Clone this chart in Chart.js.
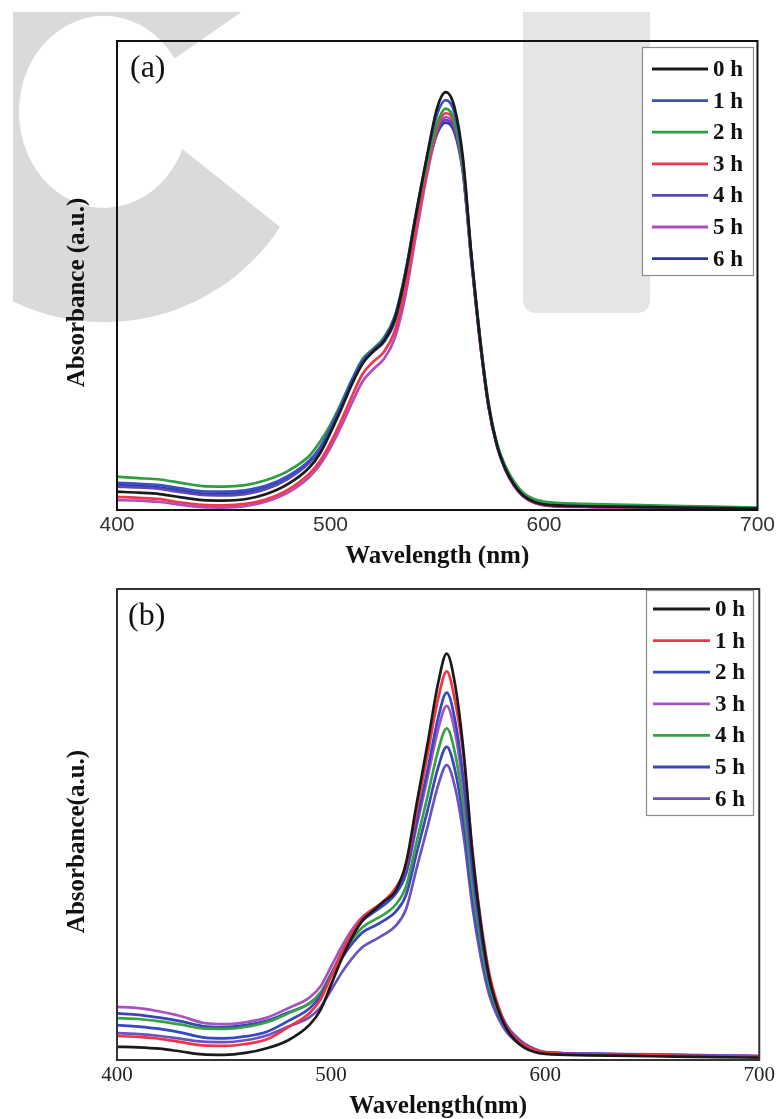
<!DOCTYPE html>
<html><head><meta charset="utf-8">
<script src="https://cdn.jsdelivr.net/npm/chart.js@4.4.1/dist/chart.umd.min.js"></script>
<style>
html,body{margin:0;padding:0;background:#fff;}
#wrap{position:relative;width:778px;height:1119px;overflow:hidden;background:#fff;}
svg.wm{position:absolute;left:0;top:0;}
canvas{position:absolute;left:0;}
</style></head><body>
<div id="wrap">
<svg class="wm" width="778" height="575">
 <defs><clipPath id="clipwm"><rect x="13" y="12" width="765" height="563"/></clipPath></defs>
 <g clip-path="url(#clipwm)">
  <path d="M174.7 58.6 L274.3 -10.9 A210 210 0 1 0 280 227 L182.4 148.9 A85 96 0 1 1 174.7 58.6 Z" fill="#d9dbdb"/>
  <path d="M523 12 H650 V299 Q650 313 636 313 H537 Q523 313 523 299 Z" fill="#e4e6e6"/>
 </g>
</svg>
<canvas id="ca" width="778" height="575" style="top:0"></canvas>
<canvas id="cb" width="778" height="544" style="top:575px"></canvas>
</div>
<script>
// ---------- data ----------
const wavelengths = [400,410,420,430,440,450,460,470,480,490,495,500,505,510,515,520,525,530,535,540,545,550,554,558,562,566,570,574,578,582,586,590,595,600,620,650,680,700];
const hourLabels = ['0 h','1 h','2 h','3 h','4 h','5 h','6 h'];
const xTicks = [400,500,600,700];
const xTitleA = 'Wavelength (nm)';
const yTitleA = 'Absorbance (a.u.)';
const xTitleB = 'Wavelength(nm)';
const yTitleB = 'Absorbance(a.u.)';

// panel (a)
const a0h = [0.039,0.037,0.034,0.027,0.021,0.020,0.023,0.034,0.055,0.090,0.120,0.165,0.215,0.268,0.312,0.338,0.360,0.405,0.500,0.628,0.750,0.858,0.891,0.860,0.752,0.545,0.366,0.225,0.138,0.087,0.054,0.032,0.018,0.012,0.008,0.006,0.004,0.003];
const a1h = [0.058,0.056,0.053,0.046,0.040,0.039,0.042,0.052,0.072,0.105,0.133,0.175,0.224,0.276,0.318,0.342,0.364,0.410,0.505,0.632,0.748,0.845,0.874,0.848,0.745,0.540,0.365,0.224,0.138,0.087,0.054,0.032,0.018,0.012,0.008,0.006,0.004,0.003];
const a2h = [0.071,0.068,0.065,0.058,0.051,0.050,0.053,0.064,0.083,0.115,0.145,0.182,0.228,0.278,0.322,0.344,0.368,0.412,0.505,0.628,0.735,0.825,0.856,0.830,0.730,0.540,0.370,0.230,0.142,0.093,0.060,0.038,0.024,0.018,0.013,0.010,0.007,0.005];
const a3h = [0.028,0.026,0.023,0.016,0.011,0.010,0.013,0.023,0.043,0.077,0.104,0.143,0.190,0.242,0.290,0.316,0.337,0.380,0.470,0.598,0.720,0.815,0.846,0.825,0.730,0.535,0.362,0.222,0.137,0.086,0.053,0.031,0.017,0.011,0.007,0.005,0.003,0.002];
const a4h = [0.050,0.048,0.045,0.038,0.032,0.031,0.034,0.045,0.066,0.100,0.128,0.170,0.219,0.272,0.314,0.338,0.358,0.400,0.492,0.615,0.725,0.808,0.832,0.812,0.725,0.535,0.363,0.222,0.137,0.086,0.053,0.031,0.017,0.011,0.007,0.005,0.003,0.002];
const a5h = [0.021,0.020,0.017,0.011,0.006,0.005,0.008,0.018,0.037,0.070,0.096,0.133,0.178,0.228,0.274,0.300,0.322,0.365,0.455,0.585,0.710,0.808,0.838,0.818,0.728,0.532,0.360,0.220,0.135,0.084,0.051,0.030,0.016,0.010,0.006,0.004,0.003,0.002];
const a6h = [0.053,0.051,0.048,0.041,0.035,0.034,0.037,0.048,0.069,0.103,0.130,0.172,0.221,0.274,0.315,0.339,0.360,0.402,0.495,0.615,0.722,0.803,0.826,0.806,0.720,0.532,0.362,0.222,0.137,0.086,0.053,0.031,0.017,0.011,0.007,0.005,0.003,0.002];

// panel (b)
const b0h = [0.028,0.027,0.024,0.018,0.012,0.011,0.015,0.025,0.042,0.075,0.106,0.160,0.215,0.262,0.298,0.318,0.338,0.358,0.418,0.545,0.670,0.800,0.863,0.795,0.650,0.440,0.285,0.172,0.108,0.066,0.042,0.027,0.017,0.013,0.010,0.008,0.006,0.005];
const b1h = [0.051,0.049,0.045,0.038,0.031,0.030,0.034,0.044,0.070,0.100,0.128,0.177,0.228,0.271,0.304,0.322,0.339,0.364,0.412,0.530,0.647,0.767,0.825,0.760,0.640,0.446,0.294,0.182,0.116,0.070,0.047,0.032,0.021,0.015,0.012,0.010,0.008,0.007];
const b2h = [0.074,0.071,0.066,0.058,0.048,0.046,0.050,0.060,0.083,0.110,0.135,0.181,0.228,0.268,0.297,0.314,0.330,0.352,0.397,0.507,0.614,0.726,0.780,0.719,0.589,0.406,0.269,0.169,0.111,0.072,0.049,0.034,0.022,0.016,0.013,0.011,0.009,0.008];
const b3h = [0.113,0.110,0.103,0.093,0.079,0.076,0.080,0.090,0.110,0.133,0.156,0.198,0.241,0.278,0.305,0.319,0.333,0.353,0.395,0.497,0.598,0.702,0.752,0.693,0.569,0.395,0.264,0.168,0.112,0.074,0.052,0.036,0.024,0.017,0.014,0.012,0.010,0.009];
const b4h = [0.089,0.087,0.082,0.075,0.067,0.066,0.070,0.080,0.099,0.121,0.143,0.183,0.223,0.257,0.283,0.297,0.310,0.329,0.368,0.464,0.559,0.657,0.704,0.649,0.532,0.369,0.247,0.157,0.104,0.069,0.048,0.034,0.022,0.016,0.013,0.011,0.009,0.008];
const b5h = [0.099,0.096,0.090,0.082,0.072,0.070,0.074,0.083,0.101,0.120,0.141,0.178,0.216,0.248,0.272,0.284,0.297,0.314,0.350,0.440,0.529,0.621,0.665,0.613,0.503,0.349,0.234,0.150,0.100,0.067,0.047,0.033,0.022,0.016,0.013,0.011,0.009,0.008];
const b6h = [0.057,0.055,0.051,0.045,0.039,0.038,0.042,0.052,0.071,0.091,0.112,0.148,0.186,0.217,0.241,0.254,0.267,0.284,0.320,0.408,0.494,0.583,0.626,0.577,0.473,0.326,0.216,0.136,0.090,0.059,0.041,0.029,0.020,0.015,0.012,0.010,0.008,0.007];

// ---------- styles ----------
const colorsA = ['#1a1a1a','#3a4ec6','#2f9e40','#f2364c','#5b49b9','#b24cc2','#2f359f'];
const colorsB = ['#1a1a1a','#f23444','#3249c2','#a354c2','#33a244','#3b46b6','#6b52c2'];

// ---------- plugins ----------
const framePlugin = {
  id: 'frame',
  afterDatasetsDraw(chart, args, o) {
    const {ctx, chartArea: a} = chart;
    ctx.save();
    ctx.strokeStyle = o.color; ctx.lineWidth = o.width;
    ctx.strokeRect(a.left, a.top, a.right - a.left, a.bottom - a.top);
    ctx.restore();
  }
};
const boxLegendPlugin = {
  id: 'boxLegend',
  afterDraw(chart, args, o) {
    const ctx = chart.ctx;
    ctx.save();
    ctx.fillStyle = '#ffffff';
    ctx.fillRect(o.x, o.y, o.w, o.h);
    ctx.strokeStyle = o.border; ctx.lineWidth = 1.2;
    ctx.strokeRect(o.x + 0.5, o.y + 0.5, o.w, o.h);
    ctx.font = o.font; ctx.textBaseline = 'middle'; ctx.textAlign = 'left';
    chart.data.datasets.forEach((ds, i) => {
      const y = o.y0 + i * o.dy;
      ctx.strokeStyle = ds.borderColor; ctx.lineWidth = 2.8;
      ctx.beginPath(); ctx.moveTo(o.lx1, y); ctx.lineTo(o.lx2, y); ctx.stroke();
      ctx.fillStyle = '#111';
      ctx.fillText(ds.label, o.tx, y + 1);
    });
    ctx.restore();
  }
};
const titlesPlugin = {
  id: 'titles',
  afterDraw(chart, args, o) {
    const {ctx, chartArea: a} = chart;
    ctx.save();
    ctx.fillStyle = '#111';
    ctx.font = o.font; ctx.textAlign = 'center'; ctx.textBaseline = 'middle';
    ctx.fillText(o.xText, (a.left + a.right) / 2, o.xY);
    ctx.save();
    ctx.translate(o.yX, (a.top + a.bottom) / 2 + o.yShift);
    ctx.rotate(-Math.PI / 2);
    ctx.fillText(o.yText, 0, 0);
    ctx.restore();
    ctx.font = o.panelFont; ctx.textAlign = 'left';
    ctx.fillText(o.panel, o.px, o.py);
    ctx.restore();
  }
};

function makeChart(id, series, colors, cfg) {
  return new Chart(document.getElementById(id), {
    type: 'line',
    data: {
      datasets: series.map((vals, i) => ({
        label: hourLabels[i],
        data: vals.map((v, j) => ({x: wavelengths[j], y: v})),
        borderColor: colors[i], backgroundColor: colors[i],
        borderWidth: 2.7, pointRadius: 0, fill: false,
        cubicInterpolationMode: 'monotone'
      }))
    },
    options: {
      responsive: false, animation: false, events: [],
      layout: {padding: {top: cfg.padTop, right: cfg.padRight, left: 0, bottom: 0}},
      plugins: {
        legend: {display: false}, tooltip: {enabled: false},
        frame: cfg.frame, boxLegend: cfg.legend, titles: cfg.titles
      },
      scales: {
        x: {
          type: 'linear', min: xTicks[0], max: xTicks[xTicks.length - 1],
          afterBuildTicks: (s) => { s.ticks = xTicks.map(v => ({value: v})); },
          ticks: {padding: 3, color: cfg.tickColor, font: {family: cfg.tickFamily, size: 21}, maxRotation: 0, autoSkip: false},
          grid: {display: false, drawTicks: false}, border: {display: false},
          afterFit: (s) => { s.height = cfg.xH; }
        },
        y: {
          min: 0, max: 1,
          ticks: {display: false}, grid: {display: false, drawTicks: false}, border: {display: false},
          afterFit: (s) => { s.width = 117; }
        }
      }
    },
    plugins: [framePlugin, boxLegendPlugin, titlesPlugin]
  });
}

makeChart('ca', [a0h,a1h,a2h,a3h,a4h,a5h,a6h], colorsA, {
  padTop: 41, padRight: 19, xH: 65,
  tickColor: '#333', tickFamily: "'Liberation Sans', Arial, sans-serif",
  frame: {color: '#111', width: 2},
  legend: {x: 642, y: 47, w: 111, h: 228, border: '#8a8a8a', y0: 69, dy: 31.6, lx1: 652, lx2: 708, tx: 713, font: "bold 23px 'Liberation Serif', serif"},
  titles: {font: "bold 25px 'Liberation Serif', serif", xText: xTitleA, xY: 557, yText: yTitleA, yX: 78, yShift: 17, panel: '(a)', panelFont: "32px 'Liberation Serif', serif", px: 130, py: 69}
});
makeChart('cb', [b0h,b1h,b2h,b3h,b4h,b5h,b6h], colorsB, {
  padTop: 14, padRight: 18, xH: 59,
  tickColor: '#222', tickFamily: "'Liberation Serif', serif",
  frame: {color: '#333', width: 2},
  legend: {x: 646, y: 15, w: 107, h: 225, border: '#8a8a8a', y0: 34, dy: 31.6, lx1: 653, lx2: 710, tx: 715, font: "bold 23px 'Liberation Serif', serif"},
  titles: {font: "bold 25px 'Liberation Serif', serif", xText: xTitleB, xY: 532, yText: yTitleB, yX: 78, yShift: 17, panel: '(b)', panelFont: "32px 'Liberation Serif', serif", px: 128, py: 42}
});
</script>
</body></html>
